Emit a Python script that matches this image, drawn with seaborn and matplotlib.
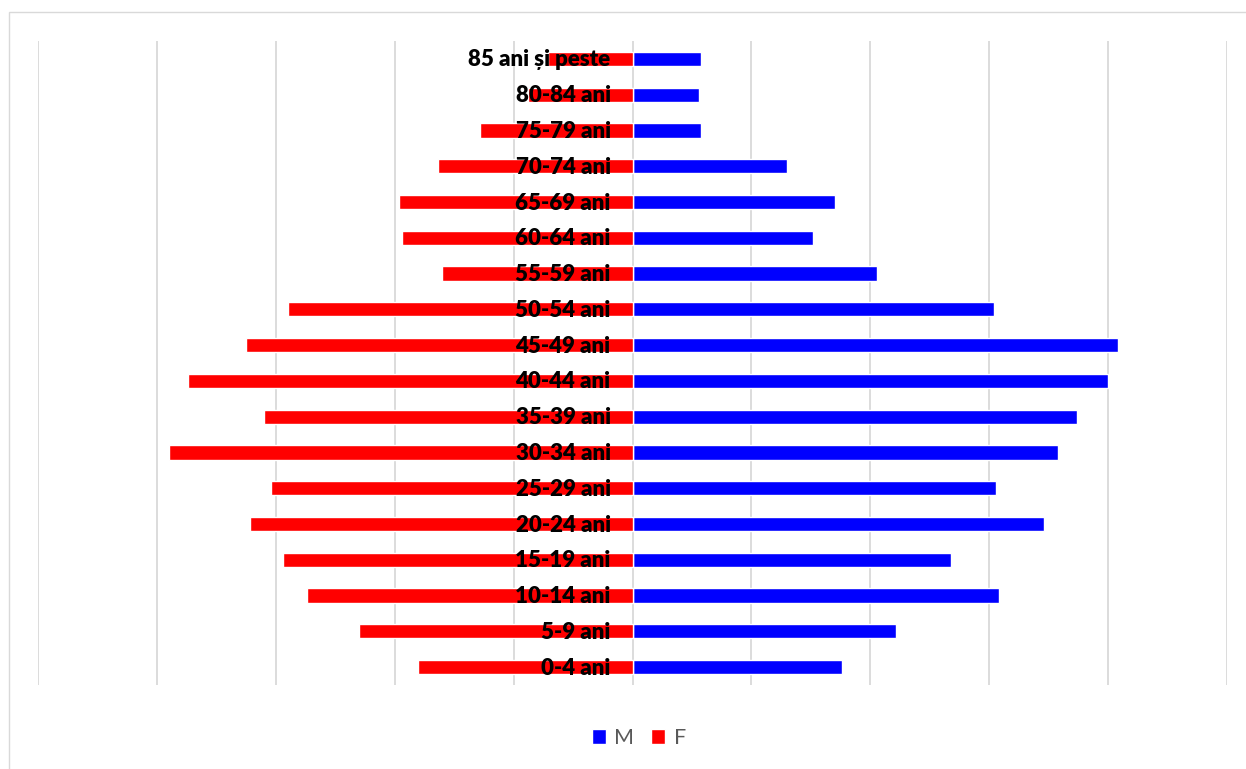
import matplotlib
matplotlib.use("Agg")
import matplotlib.pyplot as plt
import seaborn as sns
import pandas as pd
import numpy as np
from matplotlib.patches import Rectangle

age_groups = ["85 ani și peste", "80-84 ani", "75-79 ani", "70-74 ani", "65-69 ani",
              "60-64 ani", "55-59 ani", "50-54 ani", "45-49 ani", "40-44 ani",
              "35-39 ani", "30-34 ani", "25-29 ani", "20-24 ani", "15-19 ani",
              "10-14 ani", "5-9 ani", "0-4 ani"]
male = [58, 56, 58, 130, 170, 152, 206, 304, 408, 400,
        374, 358, 306, 346, 268, 308, 222, 176]
female = [71, 88, 128, 164, 196, 194, 160, 290, 325, 374,
          310, 390, 304, 322, 294, 274, 230, 180]
series = ["M", "F"]
colors = {"M": "#0000FF", "F": "#FF0000"}

df = pd.DataFrame({
    "grupa": age_groups * 2,
    "valoare": list(male) + [-v for v in female],
    "sex": ["M"] * len(male) + ["F"] * len(female),
})

sns.set_theme(style="white")
plt.rcParams["font.family"] = ["Lato", "DejaVu Sans"]

W, H = 1246, 769
fig = plt.figure(figsize=(W / 100, H / 100), dpi=100)
ax = fig.add_axes([38 / W, 1 - 685 / H, (1227 - 38) / W, 644 / H])

sns.barplot(data=df, y="grupa", x="valoare", hue="sex", order=age_groups,
            hue_order=series, palette=colors, dodge=False, width=0.4,
            orient="h", ax=ax, saturation=1, legend=True)

ax.set_xlim(-500, 500)
ax.set_ylim(len(age_groups) - 0.5, -0.5)
ax.set_xticks(np.arange(-500, 501, 100))
ax.set_xticklabels([])
ax.set_yticks([])
ax.tick_params(length=0)
ax.set_xlabel("")
ax.set_ylabel("")
ax.set_axisbelow(True)
ax.grid(axis="x", color="#d9d9d9", linewidth=1.3)
ax.grid(axis="y", visible=False)
for s in ax.spines.values():
    s.set_visible(False)

for i, lab in enumerate(age_groups):
    ax.annotate(lab, xy=(0, i), xytext=(-22, 1), textcoords="offset pixels",
                ha="right", va="center_baseline", fontsize=16, fontweight="heavy",
                color="black", zorder=5)

handles, labels = ax.get_legend_handles_labels()
ax.get_legend().remove()
leg = fig.legend(handles, labels, loc="center", bbox_to_anchor=(639 / W, 1 - 738 / H),
                 ncol=2, frameon=False, fontsize=15.5, handlelength=0.65, handleheight=0.65,
                 handletextpad=0.4, columnspacing=0.8)
for t in leg.get_texts():
    t.set_color("#595959")

fig.patches.append(Rectangle((8.5 / W, -0.01), 1.02, 1 - 11.7 / H + 0.01,
                             transform=fig.transFigure, fill=False,
                             edgecolor="#d9d9d9", linewidth=1.0, zorder=0))

fig.savefig("out.png", dpi=100, facecolor="white")
